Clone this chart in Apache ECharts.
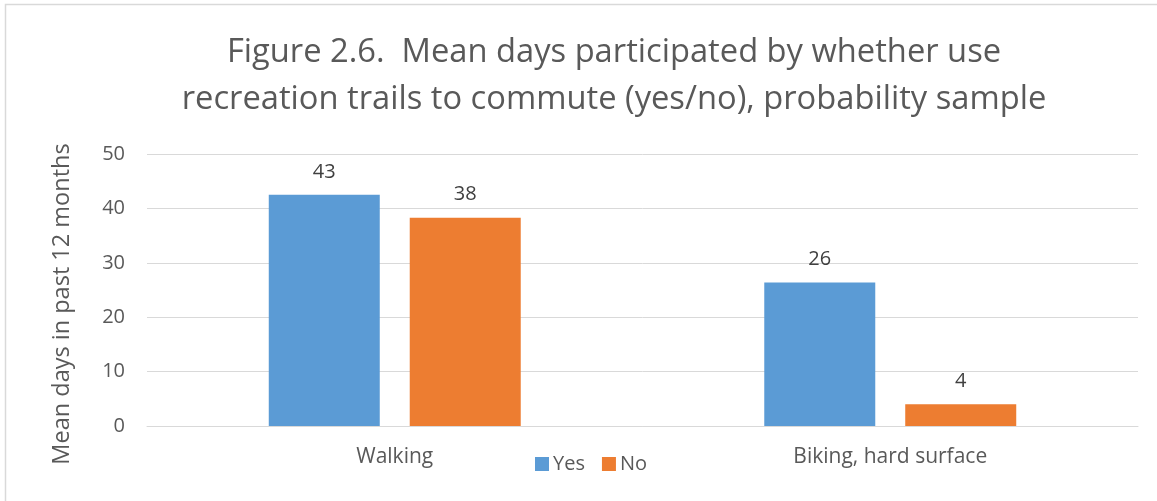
<!DOCTYPE html>
<html>
<head>
<meta charset="utf-8">
<script src="https://cdn.jsdelivr.net/npm/echarts@6/dist/echarts.min.js"></script>
<style>
  html, body { margin: 0; padding: 0; background: #fff; }
  #chart { width: 1157px; height: 501px; }
</style>
</head>
<body>
<div id="chart"></div>
<script>
// categories and series
var categories = ['Walking', 'Biking, hard surface'];
var yesValues = [42.5, 26.4];
var noValues = [38.3, 4.0];
var yTicks = [0, 10, 20, 30, 40, 50];

var FONT = "'Open Sans', 'Noto Sans', sans-serif";
var TEXT_GREY = '#595959';

var myChart = echarts.init(document.getElementById('chart'));

var labelOpt = {
	show: true,
	position: 'top',
	distance: 13,
	color: '#404040',
	fontFamily: FONT,
	fontSize: 20,
	formatter: function (p) { return Math.round(p.value); }
};

var option = {
	backgroundColor: '#fff',
	animation: false,
	title: {
		text: 'Figure 2.6.  Mean days participated by whether use\nrecreation trails to commute (yes/no), probability sample',
		left: 609,
		textAlign: 'center',
		top: 24,
		textStyle: {
			color: TEXT_GREY,
			fontFamily: FONT,
			fontWeight: 'normal',
			fontSize: 32.7,
			lineHeight: 47
		}
	},
	legend: {
		data: ['Yes', 'No'],
		left: 530,
		top: 449,
		itemWidth: 14,
		itemHeight: 14,
		itemGap: 17,
		icon: 'rect',
		textStyle: { color: TEXT_GREY, fontFamily: FONT, fontSize: 20, padding: [0, 0, 0, -1] }
	},
	grid: { left: 147, right: 19, top: 154, bottom: 75 },
	xAxis: {
		type: 'category',
		data: categories,
		axisLine: { lineStyle: { color: '#d9d9d9', width: 1 } },
		axisTick: { show: false },
		axisLabel: { color: TEXT_GREY, fontFamily: FONT, fontSize: 21, margin: 21 }
	},
	yAxis: {
		type: 'value',
		min: yTicks[0],
		max: yTicks[yTicks.length - 1],
		interval: 10,
		name: 'Mean days in past 12 months',
		nameLocation: 'middle',
		nameGap: 73,
		nameTextStyle: { color: TEXT_GREY, fontFamily: FONT, fontSize: 23.5, padding: [0, 0, 0, -28] },
		axisLine: { show: false },
		axisTick: { show: false },
		axisLabel: { color: TEXT_GREY, fontFamily: FONT, fontSize: 20, margin: 22 },
		splitLine: { lineStyle: { color: '#d9d9d9', width: 1 } }
	},
	series: [
		{
			name: 'Yes',
			type: 'bar',
			data: yesValues,
			barWidth: 111,
			barGap: '27%',
			itemStyle: { color: '#5b9bd5' },
			label: labelOpt
		},
		{
			name: 'No',
			type: 'bar',
			data: noValues,
			barWidth: 111,
			barGap: '27%',
			itemStyle: { color: '#ed7d31' },
			label: labelOpt
		}
	],
	graphic: [
		{
			type: 'polyline',
			shape: { points: [[5.5, 501], [5.5, 4.5], [1157, 4.5]] },
			style: { fill: 'none', stroke: '#d9d9d9', lineWidth: 1.5 },
			silent: true
		}
	]
};

myChart.setOption(option);
</script>
</body>
</html>
